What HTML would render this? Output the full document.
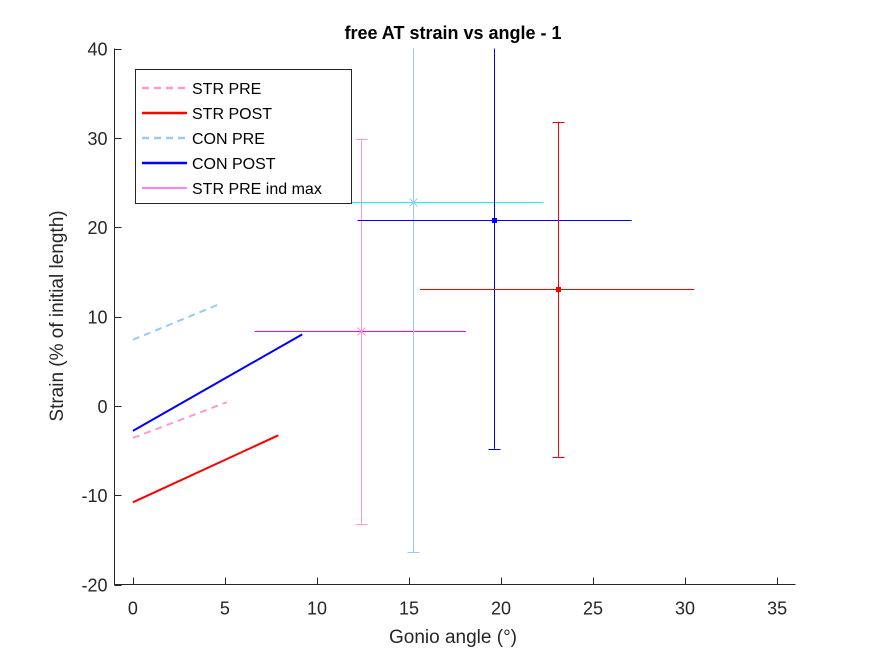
<!DOCTYPE html>
<html><head><meta charset="utf-8">
<style>
html,body{margin:0;padding:0;background:#fff;}
svg{display:block;font-family:"Liberation Sans",Arial,sans-serif;}
</style></head>
<body>
<svg id="chart" width="875" height="656" viewBox="0 0 875 656" xmlns="http://www.w3.org/2000/svg">
<rect width="875" height="656" fill="#fff"/>
<text x="453" y="39" text-anchor="middle" font-size="18" font-weight="bold" fill="#000">free AT strain vs angle - 1</text>
<text x="453" y="643" text-anchor="middle" font-size="19" fill="#262626">Gonio angle (°)</text>
<text transform="translate(63,316) rotate(-90)" text-anchor="middle" font-size="19" fill="#262626">Strain (% of initial length)</text>
<g id="axes"></g>
<g id="series"></g>
<g id="legend"></g>
</svg>
<script>
const xTicks=[0,5,10,15,20,25,30,35];
const yTicks=[-20,-10,0,10,20,30,40];
// line series: [x0,x1],[y0,y1]
const strPreX=[0,5.1], strPreY=[-3.6,0.4];
const strPostX=[0,7.9], strPostY=[-10.8,-3.3];
const conPreX=[0,4.6], conPreY=[7.4,11.3];
const conPostX=[0,9.2], conPostY=[-2.8,8.0];
// error-bar points
const ebNames=['str-pre-max','con-pre-max','con-post-max','str-post-max'];
const ebX=[12.4,15.2,19.6,23.1];
const ebY=[8.35,22.8,20.8,13.1];
const ebXLow=[6.6,11.9,12.2,15.6];
const ebXHigh=[18.1,22.3,27.1,30.5];
const ebYLow=[-13.2,-16.4,-4.8,-5.7];
const ebYHigh=[29.9,45,45,31.8];

const L=114.5,R=795.5,T=48.5,B=584.5,XMIN=-1,XMAX=36,YMIN=-20,YMAX=40;
const sx=v=>L+(v-XMIN)/(XMAX-XMIN)*(R-L);
const sy=v=>B-(v-YMIN)/(YMAX-YMIN)*(B-T);
const px=v=>Math.round(v)+0.5;
const NS='http://www.w3.org/2000/svg';
function mk(tag,attrs,parent){const e=document.createElementNS(NS,tag);for(const k in attrs)e.setAttribute(k,attrs[k]);parent.appendChild(e);return e;}
const axes=document.getElementById('axes');
const ser=document.getElementById('series');
const leg=document.getElementById('legend');
const defs=mk('defs',{},document.getElementById('chart'));
const cp=mk('clipPath',{id:'clip'},defs);
mk('rect',{x:L,y:T,width:R-L,height:B-T},cp);
ser.setAttribute('clip-path','url(#clip)');

let a=mk('path',{d:`M${L},${T}V${B}H${R}`,fill:'none',stroke:'#262626','stroke-width':1},axes);


xTicks.forEach(v=>{
  const t=mk('line',{x1:px(sx(v)),x2:px(sx(v)),y1:B,y2:B-7,stroke:'#262626'},axes);
  
  
  const l=mk('text',{x:sx(v),y:B+30,'text-anchor':'middle','font-size':18,fill:'#262626'},axes);
  l.textContent=v;
  
  
});
yTicks.forEach(v=>{
  const t=mk('line',{x1:L,x2:L+7,y1:px(sy(v)),y2:px(sy(v)),stroke:'#262626'},axes);
  
  
  const l=mk('text',{x:L-7,y:sy(v)+7,'text-anchor':'end','font-size':18,fill:'#262626'},axes);
  l.textContent=v;
  
  
});

function line(xs,ys,col,dash,name){
  const e=mk('line',{x1:sx(xs[0]),y1:sy(ys[0]),x2:sx(xs[1]),y2:sy(ys[1]),stroke:col,'stroke-width':2,'stroke-dasharray':dash||'none'},ser);
  
  
}
line(conPreX,conPreY,'#99c9f5','7,5','con-pre-line');
line(strPreX,strPreY,'#ff99cc','7,5','str-pre-line');
line(conPostX,conPostY,'#0000ff',null,'con-post-line');
line(strPostX,strPostY,'#ff0000',null,'str-post-line');

const vCol=['#ff99cc','#99c9f5','#0000ff','#ff0000'];
const hCol=['#ff00ff','#00ffff','#0000ff','#ff0000'];
const mType=['x','x','dot','dot'];
const mCol=['#ff99cc','#99c9f5','#0000ff','#ff0000'];
ebX.forEach((x,i)=>{
  const g=mk('g',{},ser);
  
  
  const X=px(sx(x)),Y=px(sy(ebY[i]));
  mk('line',{x1:X,x2:X,y1:sy(ebYLow[i]),y2:sy(ebYHigh[i]),stroke:vCol[i],'stroke-width':1},g);
  [ebYLow[i],ebYHigh[i]].forEach(v=>mk('line',{x1:X-6,x2:X+6,y1:px(sy(v)),y2:px(sy(v)),stroke:vCol[i],'stroke-width':1},g));
  mk('line',{x1:sx(ebXLow[i]),x2:sx(ebXHigh[i]),y1:Y,y2:Y,stroke:hCol[i],'stroke-width':1},g);
  if(mType[i]==='x'){
    mk('path',{d:`M${X-4},${Y-4}L${X+4},${Y+4}M${X-4},${Y+4}L${X+4},${Y-4}`,stroke:mCol[i],'stroke-width':1},g);
  } else {
    mk('rect',{x:X-2.5,y:Y-2.5,width:5,height:5,fill:mCol[i]},g);
  }
});

const box=mk('rect',{x:135.5,y:69.5,width:216,height:134,fill:'#fff',stroke:'#262626','stroke-width':1},leg);


const legNames=['STR PRE','STR POST','CON PRE','CON POST','STR PRE ind max'];
const legCol=['#ff99cc','#ff0000','#99c9f5','#0000ff','#ff00ff'];
const legDash=['7,5','none','7,5','none','none'];
const legW=[2.5,2.5,2.5,2.5,1];
legNames.forEach((n,i)=>{
  const y=88+i*25;
  const g=mk('g',{},leg);
  
  
  mk('line',{x1:142,x2:187,y1:y,y2:y,stroke:legCol[i],'stroke-width':legW[i],'stroke-dasharray':legDash[i]},g);
  const t=mk('text',{x:192,y:y+6,'font-size':16,fill:'#000'},g);
  t.textContent=n;
});
</script>
</body></html>
